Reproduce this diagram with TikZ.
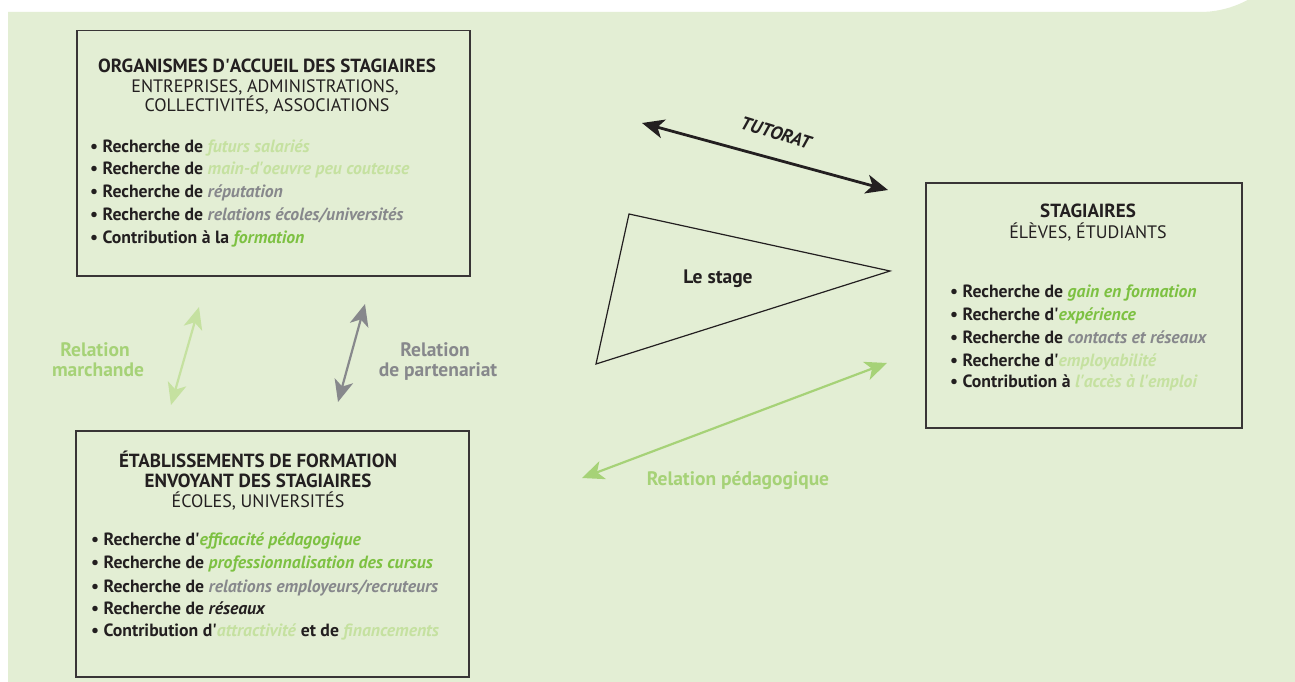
\documentclass[tikz,border=0pt]{standalone}
\usepackage{fontspec}
\setmainfont{PT Sans}
\usetikzlibrary{arrows.meta}
\definecolor{bg}{HTML}{E3EED4}
\definecolor{lgreen}{HTML}{C5E1A0}
\definecolor{mgreen}{HTML}{7DC142}
\definecolor{lblgreen}{HTML}{A6D277}
\definecolor{dgray}{HTML}{87888C}
\definecolor{ink}{HTML}{231F20}
\newcommand{\txlg}[1]{\textcolor{lgreen}{\textit{#1}}}
\newcommand{\txmg}[1]{\textcolor{mgreen}{\textit{#1}}}
\newcommand{\txgy}[1]{\textcolor{dgray}{\textit{#1}}}
\newcommand{\txbk}[1]{\textit{#1}}
\newcommand{\ap}{\textquotesingle}
\begin{document}
\begin{tikzpicture}[x=1pt,y=-1pt,
  boxframe/.style={draw=ink!90, line width=1.5pt, fill=none},
  ttl/.style={font=\fontsize{19}{22}\selectfont\bfseries, text=ink, anchor=base, inner sep=0pt},
  sub/.style={font=\fontsize{18}{21}\selectfont, text=ink, anchor=base, inner sep=0pt},
  itemline/.style={font=\fontsize{17.7}{20}\selectfont\bfseries, text=ink, anchor=base west, inner sep=0pt},
  lbl/.style={font=\fontsize{19.5}{22}\selectfont\bfseries, anchor=base, inner sep=0pt},
  dbl/.style={{Stealth[length=22pt,width=19pt,inset=6pt]}-{Stealth[length=22pt,width=19pt,inset=6pt]}}
]
\useasboundingbox (0,0) rectangle (1295,682);
\fill[white] (0,0) rectangle (1295,682);
\fill[bg] (8,682) -- (8,12) -- (1200,12) arc[start angle=90, end angle=0, radius=100] -- (1300,682) -- cycle;

% boxes
\node[boxframe, minimum width=393pt, minimum height=245pt, anchor=north west] (org) at (76,30) {};
\node[boxframe, minimum width=316pt, minimum height=245pt, anchor=north west] (stag) at (925,182) {};
\node[boxframe, minimum width=393pt, minimum height=246pt, anchor=north west] (etab) at (75,430) {};

% top box text
\node[ttl] (orgT1) at (267,73) {ORGANISMES D\ap ACCUEIL DES STAGIAIRES};
\node[sub] (orgT2) at (265,93) {ENTREPRISES, ADMINISTRATIONS,};
\node[sub] (orgT3) at (267,112) {COLLECTIVITÉS, ASSOCIATIONS};
\node[itemline] (orgL1) at (90,152) {\textbullet\ Recherche de \txlg{futurs salariés}};
\node[itemline] (orgL2) at (90,174) {\textbullet\ Recherche de \txlg{main-d\ap oeuvre peu couteuse}};
\node[itemline] (orgL3) at (90,197) {\textbullet\ Recherche de \txgy{réputation}};
\node[itemline] (orgL4) at (90,220) {\textbullet\ Recherche de \txgy{relations écoles/universités}};
\node[itemline] (orgL5) at (90,243) {\textbullet\ Contribution à la \txmg{formation}};

% stagiaires box text
\node[ttl] (stT1) at (1088,217) {STAGIAIRES};
\node[sub] (stT2) at (1088,238) {ÉLÈVES, ÉTUDIANTS};
\node[itemline] (stL1) at (950,297) {\textbullet\ Recherche de \txmg{gain en formation}};
\node[itemline] (stL2) at (950,320) {\textbullet\ Recherche d\ap\txmg{expérience}};
\node[itemline] (stL3) at (950,343) {\textbullet\ Recherche de \txgy{contacts et réseaux}};
\node[itemline] (stL4) at (950,366) {\textbullet\ Recherche d\ap\txlg{employabilité}};
\node[itemline] (stL5) at (950,387) {\textbullet\ Contribution à \txlg{l\ap accès à l\ap emploi}};

% bottom box text
\node[ttl] (etT1) at (258,467) {ÉTABLISSEMENTS DE FORMATION};
\node[ttl] (etT2) at (258,487) {ENVOYANT DES STAGIAIRES};
\node[sub] (etT3) at (258,507) {ÉCOLES, UNIVERSITÉS};
\node[itemline] (etL1) at (91,545) {\textbullet\ Recherche d\ap\txmg{efficacité pédagogique}};
\node[itemline] (etL2) at (91,568) {\textbullet\ Recherche de \txmg{professionnalisation des cursus}};
\node[itemline] (etL3) at (91,592) {\textbullet\ Recherche de \txgy{relations employeurs/recruteurs}};
\node[itemline] (etL4) at (91,614) {\textbullet\ Recherche de \txbk{réseaux}};
\node[itemline] (etL5) at (91,636) {\textbullet\ Contribution d\ap\txlg{attractivité} et de \txlg{financements}};

% triangle
\coordinate (triA) at (629,214);
\coordinate (triB) at (890,271);
\coordinate (triC) at (596,364);
\draw[ink, line width=1.2pt, line join=miter] (triA) -- (triB) -- (triC) -- cycle;
\node[lbl, text=ink] (stage) at (718,283) {Le stage};

% tutorat
\coordinate (tutA) at (642,123);
\coordinate (tutB) at (888,190);
\draw[dbl, ink, line width=2.8pt] (tutA) -- (tutB);
\node[lbl, text=ink, rotate=-17, font=\fontsize{18.5}{21}\selectfont\bfseries\itshape] (tut) at (774,139) {TUTORAT};

% pedagogique
\coordinate (pedA) at (582,478);
\coordinate (pedB) at (887,363);
\draw[dbl, lblgreen, line width=2.2pt] (pedA) -- (pedB);
\node[lbl, text=lblgreen] (ped) at (738,485) {Relation pédagogique};

% marchande
\coordinate (marA) at (199,307);
\coordinate (marB) at (171,405);
\draw[dbl, lgreen, line width=2.2pt] (marA) -- (marB);
\node[lbl, text=lblgreen] (mar1) at (95,356) {Relation};
\node[lbl, text=lblgreen] (mar2) at (98,376) {marchande};

% partenariat
\coordinate (parA) at (365,304);
\coordinate (parB) at (338,402);
\draw[dbl, dgray, line width=2.2pt] (parA) -- (parB);
\node[lbl, text=dgray] (par1) at (435,356) {Relation};
\node[lbl, text=dgray] (par2) at (438,376) {de partenariat};
\end{tikzpicture}
\end{document}
